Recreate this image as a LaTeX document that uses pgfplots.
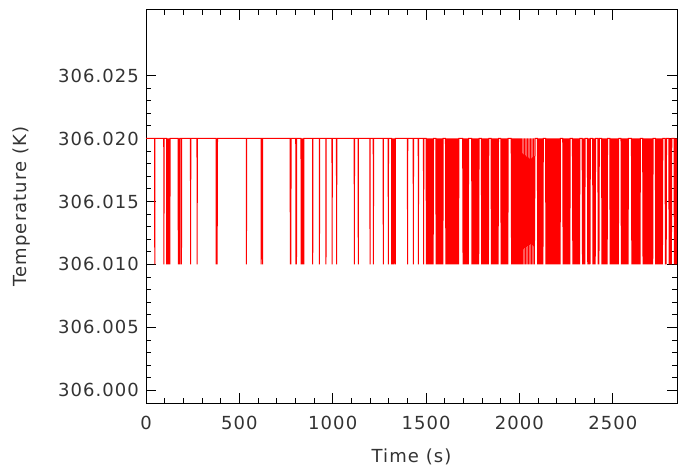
\documentclass[border=0pt]{standalone}
\usepackage{fontspec}
\setmainfont{DejaVu Sans}[LetterSpace=6]
\usepackage{pgfplots}
\pgfplotsset{compat=1.18}
% temperatures are written in K (306.0xx); the trafo shifts them by 300 K
% with exact decimal arithmetic so TeX's limited precision keeps the 0.001 K steps
\newcommand\KtoOff[1]{%
  \pgfmathfloatparsenumber{#1}%
  \pgfmathfloattosci{\pgfmathresult}%
  \edef\pgfmathresult{\fpeval{\pgfmathresult-300}}}
\begin{document}
\begin{tikzpicture}
\begin{axis}[
  name=ax, at={(0,0)}, anchor=south west,
  scale only axis, width=265.5bp, height=196.5bp,
  y coord trafo/.code={\KtoOff{#1}},
  xmin=0, xmax=2844, ymin=305.999, ymax=306.0302,
  xtick={0,500,1000,1500,2000,2500},
  xticklabels={0,500,1000,1500,2000,2500},
  ytick={306.000,306.005,306.010,306.015,306.020,306.025},
  yticklabels={306.000,306.005,306.010,306.015,306.020,306.025},
  scaled x ticks=false, scaled y ticks=false,
  minor x tick num=4, minor y tick num=4,
  tick align=inside, tick pos=both,
  major tick length=5bp, minor tick length=2.5bp,
  axis line style={black, line width=0.5bp},
  every tick/.style={black, line width=0.5bp},
  every tick label/.append style={font=\fontsize{9bp}{10bp}\selectfont, text=black!80},
  xticklabel style={yshift=-3bp},
  xlabel={Time (s)}, ylabel={Temperature (K)},
  every axis x label/.style={at={(axis description cs:0.5,-0.1374)}, anchor=center, font=\fontsize{9bp}{10bp}\selectfont, text=black!80},
  every axis y label/.style={at={(axis description cs:-0.2335,0.5)}, rotate=90, anchor=center, font=\fontsize{9bp}{10bp}\selectfont, text=black!80},
  clip=true,
]
\addplot[red, line width=0.5bp, mark=none] coordinates {
(0,306.02)(46,306.02)(47,306.01)(48,306.02)(95,306.02)(96,306.01)(97,306.02)
(110,306.02)(111,306.01)(113,306.02)(115,306.01)(117,306.02)(119,306.01)(121,306.02)(124,306.01)(126,306.02)(128,306.01)(129,306.02)
(172,306.02)(173,306.01)(175,306.02)(177,306.01)(179,306.02)(181,306.01)(182,306.02)(189,306.02)(190,306.01)(191,306.02)
(238,306.02)(239,306.01)(240,306.02)(273,306.02)(274,306.01)(275,306.02)
(375,306.02)(376,306.01)(378,306.02)(381,306.01)(383,306.02)
(537,306.02)(538,306.01)(539,306.02)(616,306.02)(617,306.01)(618,306.02)(623,306.02)(624,306.01)(625,306.02)
(772,306.02)(773,306.01)(775,306.02)(776,306.01)(777,306.02)(802,306.02)(803,306.01)(805,306.02)(806,306.01)(807,306.02)
(830,306.02)(831,306.01)(833,306.02)(836,306.01)(838,306.02)(841,306.01)(843,306.02)(845,306.01)(846,306.02)
(892,306.02)(893,306.01)(894,306.02)(928,306.02)(929,306.01)(930,306.02)(963,306.02)(964,306.01)(965,306.02)
(996,306.02)(997,306.01)(998,306.02)(1020,306.02)(1021,306.01)(1022,306.02)
(1115,306.02)(1116,306.01)(1117,306.02)(1136,306.02)(1137,306.01)(1138,306.02)
(1199,306.02)(1200,306.01)(1201,306.02)(1217,306.02)(1218,306.01)(1219,306.02)
(1270,306.02)(1271,306.01)(1272,306.02)(1297,306.02)(1298,306.01)(1299,306.02)
(1315,306.02)(1316,306.01)(1318,306.02)(1322,306.01)(1324,306.02)(1328,306.01)(1330,306.02)(1335,306.01)(1336,306.02)
(1400,306.02)(1401,306.01)(1402,306.02)(1431,306.02)(1432,306.01)(1433,306.02)
(1458,306.02)(1459,306.01)(1460,306.02)(1486,306.02)(1487,306.01)(1488,306.02)
(1500,306.02)(1502,306.01)(1504,306.02)(1506,306.01)(1508,306.02)(1510,306.01)(1512,306.02)(1514,306.01)(1516,306.02)(1518,306.01)
(1520,306.02)(1522,306.01)(1524,306.02)(1526,306.01)(1528,306.02)(1530,306.01)(1532,306.02)(1534,306.01)(1536,306.02)(1538,306.01)(1540,306.02)
(1552,306.02)(1554,306.01)(1556,306.02)(1558,306.01)(1560,306.02)(1562,306.01)(1564,306.02)(1566,306.01)(1568,306.02)(1570,306.01)
(1572,306.02)(1574,306.01)(1576,306.02)(1578,306.01)(1580,306.02)(1582,306.01)(1584,306.02)(1586,306.01)(1588,306.02)(1590,306.01)(1592,306.02)
(1604,306.02)(1606,306.01)(1608,306.02)(1610,306.01)(1612,306.02)(1614,306.01)(1616,306.02)(1618,306.01)(1620,306.02)(1622,306.01)
(1624,306.02)(1626,306.01)(1628,306.02)(1630,306.01)(1632,306.02)(1634,306.01)(1636,306.02)(1638,306.01)(1640,306.02)(1642,306.01)
(1644,306.02)(1646,306.01)(1648,306.02)(1650,306.01)(1652,306.02)(1654,306.01)(1656,306.02)(1658,306.01)(1660,306.02)(1662,306.01)
(1664,306.02)(1666,306.01)(1668,306.02)(1670,306.01)(1672,306.02)(1674,306.01)(1676,306.02)
(1696,306.02)(1698,306.01)(1700,306.02)(1702,306.01)(1704,306.02)(1706,306.01)(1708,306.02)(1710,306.01)(1712,306.02)(1714,306.01)
(1716,306.02)(1718,306.01)(1720,306.02)(1722,306.01)(1724,306.02)(1726,306.01)(1728,306.02)
(1744,306.02)(1746,306.01)(1748,306.02)(1750,306.01)(1752,306.02)(1754,306.01)(1756,306.02)(1758,306.01)(1760,306.02)(1762,306.01)
(1764,306.02)(1766,306.01)(1768,306.02)(1770,306.01)(1772,306.02)(1774,306.01)(1776,306.02)(1778,306.01)(1780,306.02)(1782,306.01)(1784,306.02)
(1796,306.02)(1798,306.01)(1800,306.02)(1802,306.01)(1804,306.02)(1806,306.01)(1808,306.02)(1810,306.01)(1812,306.02)(1814,306.01)
(1816,306.02)(1818,306.01)(1820,306.02)(1822,306.01)(1824,306.02)(1826,306.01)(1828,306.02)(1830,306.01)(1832,306.02)(1834,306.01)(1836,306.02)
(1848,306.02)(1850,306.01)(1852,306.02)(1854,306.01)(1856,306.02)(1858,306.01)(1860,306.02)(1862,306.01)(1864,306.02)(1866,306.01)
(1868,306.02)(1870,306.01)(1872,306.02)(1874,306.01)(1876,306.02)(1878,306.01)(1880,306.02)(1882,306.01)(1884,306.02)(1886,306.01)(1888,306.02)
(1900,306.02)(1902,306.01)(1904,306.02)(1906,306.01)(1908,306.02)(1910,306.01)(1912,306.02)(1914,306.01)(1916,306.02)(1918,306.01)
(1920,306.02)(1922,306.01)(1924,306.02)(1926,306.01)(1928,306.02)(1930,306.01)(1932,306.02)(1934,306.01)(1936,306.02)(1938,306.01)(1940,306.02)
(1956,306.02)(1958,306.01)(1960,306.02)(1962,306.01)(1964,306.02)(1966,306.01)(1968,306.02)(1970,306.01)(1972,306.02)(1974,306.01)
(1976,306.02)(1978,306.01)(1980,306.02)(1982,306.01)(1984,306.02)(1986,306.01)(1988,306.02)(1990,306.01)(1992,306.02)(1994,306.01)
(1996,306.02)(1998,306.01)(2000,306.02)(2002,306.01)(2004,306.02)(2006,306.01)(2008,306.02)(2010,306.01)(2012,306.02)
(2016,306.01)(2020,306.02)(2024,306.01)(2028,306.02)(2032,306.01)(2036,306.02)(2040,306.01)(2044,306.02)(2048,306.01)
(2052,306.02)(2056,306.01)(2060,306.02)(2064,306.01)(2068,306.02)(2072,306.01)(2076,306.02)(2080,306.01)(2084,306.02)
(2096,306.02)(2098,306.01)(2100,306.02)(2102,306.01)(2104,306.02)(2106,306.01)(2108,306.02)(2110,306.01)(2112,306.02)(2114,306.01)
(2116,306.02)(2118,306.01)(2120,306.02)(2122,306.01)(2124,306.02)(2126,306.01)(2128,306.02)
(2140,306.02)(2142,306.01)(2144,306.02)(2146,306.01)(2148,306.02)(2150,306.01)(2152,306.02)(2154,306.01)(2156,306.02)(2158,306.01)
(2160,306.02)(2162,306.01)(2164,306.02)(2166,306.01)(2168,306.02)(2170,306.01)(2172,306.02)(2174,306.01)(2176,306.02)(2178,306.01)
(2180,306.02)(2182,306.01)(2184,306.02)(2186,306.01)(2188,306.02)(2190,306.01)(2192,306.02)(2194,306.01)(2196,306.02)(2198,306.01)
(2200,306.02)(2202,306.01)(2204,306.02)(2206,306.01)(2208,306.02)(2210,306.01)(2212,306.02)(2214,306.01)(2216,306.02)(2218,306.01)(2220,306.02)
(2232,306.02)(2234,306.01)(2236,306.02)(2238,306.01)(2240,306.02)(2242,306.01)(2244,306.02)(2246,306.01)(2248,306.02)(2250,306.01)
(2252,306.02)(2254,306.01)(2256,306.02)(2258,306.01)(2260,306.02)(2262,306.01)(2264,306.02)(2266,306.01)(2268,306.02)(2270,306.01)(2272,306.02)
(2284,306.02)(2286,306.01)(2288,306.02)(2290,306.01)(2292,306.02)(2294,306.01)(2296,306.02)(2298,306.01)(2300,306.02)(2302,306.01)
(2304,306.02)(2306,306.01)(2308,306.02)(2310,306.01)(2312,306.02)(2314,306.01)(2316,306.02)(2318,306.01)(2320,306.02)(2322,306.01)(2324,306.02)
(2336,306.02)(2338,306.01)(2340,306.02)(2342,306.01)(2344,306.02)(2346,306.01)(2348,306.02)(2350,306.01)(2352,306.02)
(2364,306.02)(2366,306.01)(2368,306.02)(2370,306.01)(2372,306.02)(2374,306.01)(2376,306.02)(2378,306.01)(2380,306.02)
(2392,306.02)(2394,306.01)(2396,306.02)(2398,306.01)(2400,306.02)(2402,306.01)(2404,306.02)(2406,306.01)(2408,306.02)
(2420,306.02)(2422,306.01)(2424,306.02)(2426,306.01)(2428,306.02)
(2440,306.02)(2442,306.01)(2444,306.02)(2446,306.01)(2448,306.02)(2450,306.01)(2452,306.02)(2454,306.01)(2456,306.02)(2458,306.01)
(2460,306.02)(2462,306.01)(2464,306.02)(2466,306.01)(2468,306.02)(2470,306.01)(2472,306.02)
(2484,306.02)(2486,306.01)(2488,306.02)(2490,306.01)(2492,306.02)(2494,306.01)(2496,306.02)(2498,306.01)(2500,306.02)(2502,306.01)
(2504,306.02)(2506,306.01)(2508,306.02)(2510,306.01)(2512,306.02)(2514,306.01)(2516,306.02)(2518,306.01)(2520,306.02)(2522,306.01)
(2524,306.02)(2526,306.01)(2528,306.02)(2530,306.01)(2532,306.02)
(2544,306.02)(2546,306.01)(2548,306.02)(2550,306.01)(2552,306.02)(2554,306.01)(2556,306.02)(2558,306.01)(2560,306.02)(2562,306.01)
(2564,306.02)(2566,306.01)(2568,306.02)(2570,306.01)(2572,306.02)(2574,306.01)(2576,306.02)(2578,306.01)(2580,306.02)(2582,306.01)(2584,306.02)
(2600,306.02)(2602,306.01)(2604,306.02)(2606,306.01)(2608,306.02)(2610,306.01)(2612,306.02)(2614,306.01)(2616,306.02)(2618,306.01)
(2620,306.02)(2622,306.01)(2624,306.02)(2626,306.01)(2628,306.02)(2630,306.01)(2632,306.02)(2634,306.01)(2636,306.02)(2638,306.01)
(2640,306.02)(2642,306.01)(2644,306.02)(2646,306.01)(2648,306.02)
(2660,306.02)(2662,306.01)(2664,306.02)(2666,306.01)(2668,306.02)(2670,306.01)(2672,306.02)(2674,306.01)(2676,306.02)(2678,306.01)
(2680,306.02)(2682,306.01)(2684,306.02)(2686,306.01)(2688,306.02)(2690,306.01)(2692,306.02)(2694,306.01)(2696,306.02)(2698,306.01)
(2700,306.02)(2702,306.01)(2704,306.02)(2706,306.01)(2708,306.02)(2710,306.01)(2712,306.02)(2714,306.01)(2716,306.02)
(2728,306.02)(2730,306.01)(2732,306.02)(2734,306.01)(2736,306.02)(2738,306.01)(2740,306.02)(2742,306.01)(2744,306.02)(2746,306.01)
(2748,306.02)(2750,306.01)(2752,306.02)(2754,306.01)(2756,306.02)(2758,306.01)(2760,306.02)(2762,306.01)(2764,306.02)(2766,306.01)(2768,306.02)
(2780,306.02)(2782,306.01)(2784,306.02)(2786,306.01)(2788,306.02)
(2800,306.02)(2802,306.01)(2804,306.02)(2806,306.01)(2808,306.02)(2810,306.01)(2812,306.02)(2814,306.01)(2816,306.02)
(2828,306.02)(2830,306.01)(2832,306.02)(2834,306.01)(2836,306.02)(2838,306.01)(2840,306.02)(2842,306.01)(2844,306.02)(2846,306.01)(2848,306.02)
};
\end{axis}
\pgfresetboundingbox
\path[use as bounding box] (ax.south west) ++(-73bp,-34.5bp) rectangle ++(339.5bp,236bp);
\end{tikzpicture}
\end{document}
